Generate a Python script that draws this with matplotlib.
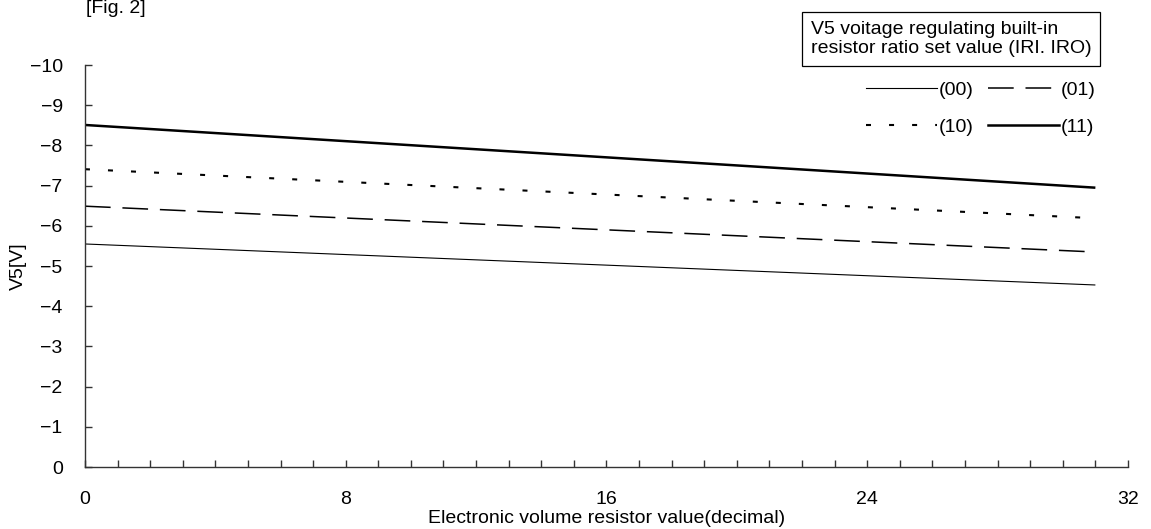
import numpy as np
import matplotlib
matplotlib.use("Agg")
import matplotlib.pyplot as plt
from matplotlib.lines import Line2D

plt.rcParams['font.family'] = ['Liberation Sans', 'DejaVu Sans']
plt.rcParams['lines.scale_dashes'] = False

# data: V5 vs electronic volume value, one line per resistor ratio setting
x_ends = [0, 31]
v5_00 = [-5.55, -4.53]
v5_01 = [-6.49, -5.35]
v5_10 = [-7.41, -6.19]
v5_11 = [-8.51, -6.95]
labels = ['(00)', '(01)', '(10)', '(11)']

FS = 14

fig = plt.figure(figsize=(11.51, 5.29), dpi=100)
ax = fig.add_axes([0.0738, 0.117, 0.9062, 0.760])

styles = [
    dict(lw=0.8, ls='-'),
    dict(lw=1.1, ls=(0, (18.5, 8.5))),
    dict(lw=1.5, ls=(0, (3.6, 13))),
    dict(lw=1.8, ls='-'),
]
for ys, st in zip([v5_00, v5_01, v5_10, v5_11], styles):
    ax.plot(x_ends, ys, color='black', solid_capstyle='butt', dash_capstyle='butt', **st)

ax.set_xlim(0, 32)
ax.set_ylim(0, -10)
ax.set_xticks(np.arange(0, 33, 8))
ax.set_xticks(np.arange(0, 33, 1), minor=True)
ax.set_yticks(np.arange(0, -11, -1))
ax.set_yticklabels([('−%d' % abs(v)) if v else '0' for v in np.arange(0, -11, -1)])

for s in ['top', 'right']:
    ax.spines[s].set_visible(False)
for s in ['left', 'bottom']:
    ax.spines[s].set_color('#333333')
    ax.spines[s].set_linewidth(1.0)

ax.tick_params(axis='y', direction='in', length=5, width=1, color='#333333', pad=16, labelsize=FS)
ax.tick_params(axis='x', which='both', direction='in', length=5, width=1, color='#333333', pad=17, labelsize=FS)

ax.set_xlabel('Electronic volume resistor value(decimal)', fontsize=FS, labelpad=2)
ax.set_ylabel('V5[V]', fontsize=FS, labelpad=2)

fig.text(0.075, 1.0, '[Fig. 2]', fontsize=FS, va='top', ha='left')

# legend title box
fig.text(0.7045, 0.926, 'V5 voitage regulating built-in\nresistor ratio set value (IRI. IRO)',
         fontsize=FS, ha='left', va='center', linespacing=1.15,
         bbox=dict(boxstyle='square,pad=0.45', fc='white', ec='black', lw=0.9))

# ncol fills column-wise, so order handles to get (00)(01) / (10)(11) rows
order = [0, 2, 1, 3]
handles = [Line2D([], [], color='black', **styles[i]) for i in order]
leg = fig.legend(handles, [labels[i] for i in order], ncol=2, loc='upper right',
                 bbox_to_anchor=(0.952, 0.847), borderaxespad=0, borderpad=0,
                 frameon=False, fontsize=FS, handlelength=3.65, handletextpad=0.1,
                 columnspacing=0.75, labelspacing=1.0)

fig.savefig('out.png', dpi=100)
